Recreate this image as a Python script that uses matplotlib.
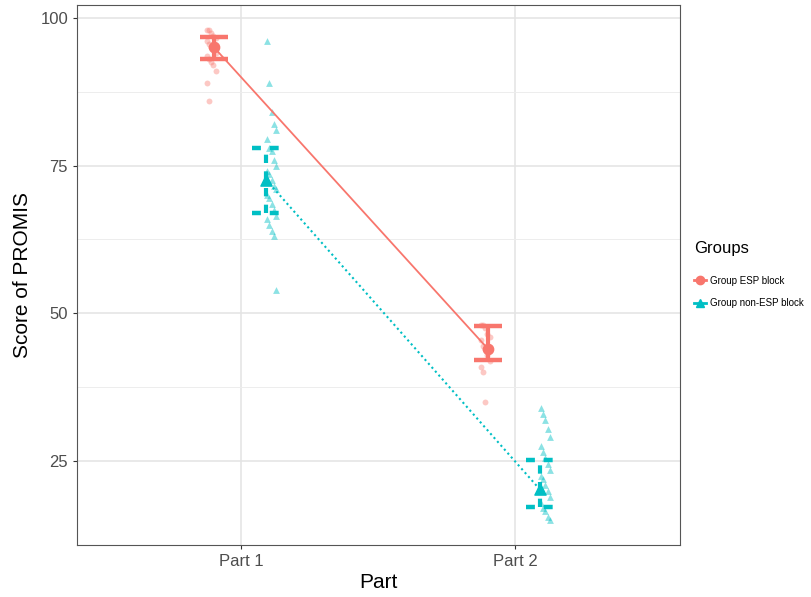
import numpy as np
import matplotlib
matplotlib.use("Agg")
import matplotlib.pyplot as plt
from matplotlib.lines import Line2D

plt.rcParams['font.family'] = ['Liberation Sans', 'DejaVu Sans']

# Datos
partes = ["Part 1", "Part 2"]
grupos = ["Group ESP block", "Group non-ESP block"]

esp_p1 = [98, 98, 97.5, 97, 96.5, 96, 95.5, 95, 94.5, 94, 93.5, 93, 92.5, 92, 91, 89, 86]
esp_p2 = [48, 48, 47.5, 46.5, 46, 45.5, 44.5, 44, 43, 42, 41, 40, 35]
non_p1 = [96, 89, 84, 82, 81, 79.5, 78, 77.5, 76, 75, 74, 73.5, 72.5, 71.5, 71, 70,
          69.5, 68.5, 67.5, 66.5, 66, 65, 64, 63, 54]
non_p2 = [34, 33, 32, 30.5, 29, 27.5, 26.5, 25.5, 24.5, 23.5, 22.5, 22, 21, 20, 19,
          18, 17, 16.5, 15.5, 15]

medias_esp = [95.0, 44.0]
inf_esp = [93.1, 42.1]
sup_esp = [96.8, 47.8]
medias_non = [72.6, 20.2]
inf_non = [67.0, 17.3]
sup_non = [78.0, 25.2]

rojo = "#F8766D"
cian = "#00BFC4"

fig = plt.figure(figsize=(8.11, 5.97), dpi=100)
ax = fig.add_axes([0.095, 0.087, 0.743, 0.905])

def jitter(n):
    return (np.arange(n) % 5 - 2) * 0.008

# Puntos individuales
for i, vals in enumerate([esp_p1, esp_p2]):
    x = i + 1 - 0.11 + jitter(len(vals))
    ax.scatter(x, vals, s=18, color=rojo, alpha=0.4, marker="o", linewidths=0, zorder=3)
for i, vals in enumerate([non_p1, non_p2]):
    x = i + 1 + 0.11 + jitter(len(vals))
    ax.scatter(x, vals, s=24, color=cian, alpha=0.45, marker="^", linewidths=0, zorder=3)

# Lineas entre medias
xe = np.array([1, 2]) - 0.1
xn = np.array([1, 2]) + 0.09
ax.plot(xe, medias_esp, color=rojo, lw=1.3, zorder=4)
ax.plot(xn, medias_non, color=cian, lw=1.5, ls=(0, (1, 1.5)), zorder=4)

# Barras de error
w = 0.05
for i in range(2):
    ax.vlines(xe[i], inf_esp[i], sup_esp[i], color=rojo, lw=3, zorder=5)
    ax.hlines([inf_esp[i], sup_esp[i]], xe[i] - w, xe[i] + w, color=rojo, lw=3.2, zorder=5)
    ax.vlines(xn[i], inf_non[i], sup_non[i], color=cian, lw=3, ls=(0, (2, 2)), zorder=5)
    ax.hlines([inf_non[i], sup_non[i]], xn[i] - w, xn[i] + w, color=cian, lw=3.2,
              ls=(0, (2, 2)), zorder=5)
ax.scatter(xe, medias_esp, s=55, color=rojo, marker="o", zorder=6)
ax.scatter(xn, medias_non, s=65, color=cian, marker="^", zorder=6)

ax.set_xlim(0.4, 2.6)
ax.set_ylim(10.8, 102.2)
ax.set_xticks([1, 2])
ax.set_xticklabels(partes)
ax.set_yticks([25, 50, 75, 100])
ax.set_yticks([37.5, 62.5, 87.5], minor=True)
ax.grid(True, which="major", color="#E3E3E3", lw=1.1)
ax.grid(True, which="minor", axis="y", color="#EDEDED", lw=0.7)
ax.set_axisbelow(True)
ax.tick_params(which="minor", length=0)
ax.tick_params(which="major", labelsize=12, labelcolor="#4D4D4D", color="#333333", length=3)
for s in ax.spines.values():
    s.set_color("#555555")
    s.set_linewidth(0.8)
ax.set_xlabel("Part", fontsize=15, labelpad=3)
ax.set_ylabel("Score of PROMIS", fontsize=15, labelpad=6)

handles = [
    Line2D([0], [0], color=rojo, lw=2, marker="o", markersize=6),
    Line2D([0], [0], color=cian, lw=2, marker="^", markersize=6),
]
leg = fig.legend(handles, grupos, title="Groups", loc="center left",
                 bbox_to_anchor=(0.845, 0.54), frameon=False, fontsize=7,
                 title_fontsize=12, handlelength=1.2, handletextpad=0.4,
                 labelspacing=1.3, alignment="left")
leg._legend_box.sep = 14

fig.savefig("out.png", dpi=100)
plt.close()
